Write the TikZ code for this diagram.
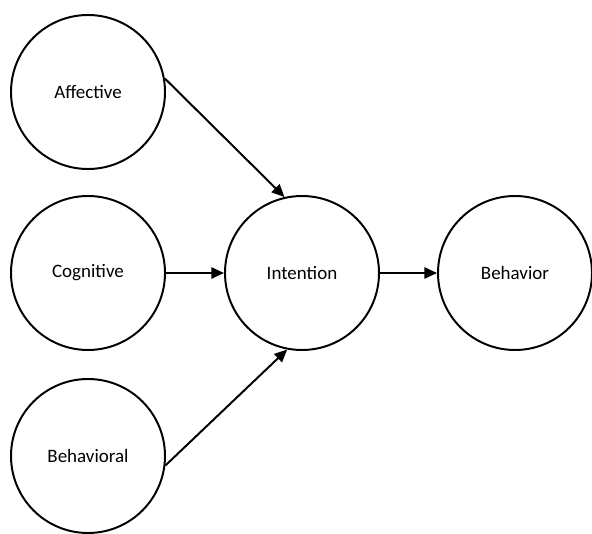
\documentclass[tikz,border=0pt]{standalone}
\usepackage{fontspec}
\setmainfont{Carlito}
\usetikzlibrary{arrows.meta}

\tikzset{
  state/.style={draw,circle,line width=1.4pt,minimum size=3.85cm,inner sep=0pt,
    font=\fontsize{13.5}{16}\selectfont},
  link/.style={-{Triangle[length=9pt,width=8pt]},line width=1.4pt}
}

\begin{document}
\begin{tikzpicture}
\useasboundingbox (0,0) rectangle (14.8,13.325);

% Attitude components
\node[state] (affective) at (2.2,11.025) {Affective};
\node[state] (cognitive) at (2.2,6.5) {Cognitive};
\node[state] (behavioral) at (2.2,1.925) {Behavioral};

% Intention and behavior
\node[state] (intention) at (7.55,6.5) {Intention};
\node[state] (behavior) at (12.875,6.5) {Behavior};

% Links
\draw[link] (affective.10) -- (intention.103);
\draw[link] (cognitive) -- (intention);
\draw[link] (behavioral.-7) -- (intention.-101);
\draw[link] (intention) -- (behavior);

\end{tikzpicture}
\end{document}
